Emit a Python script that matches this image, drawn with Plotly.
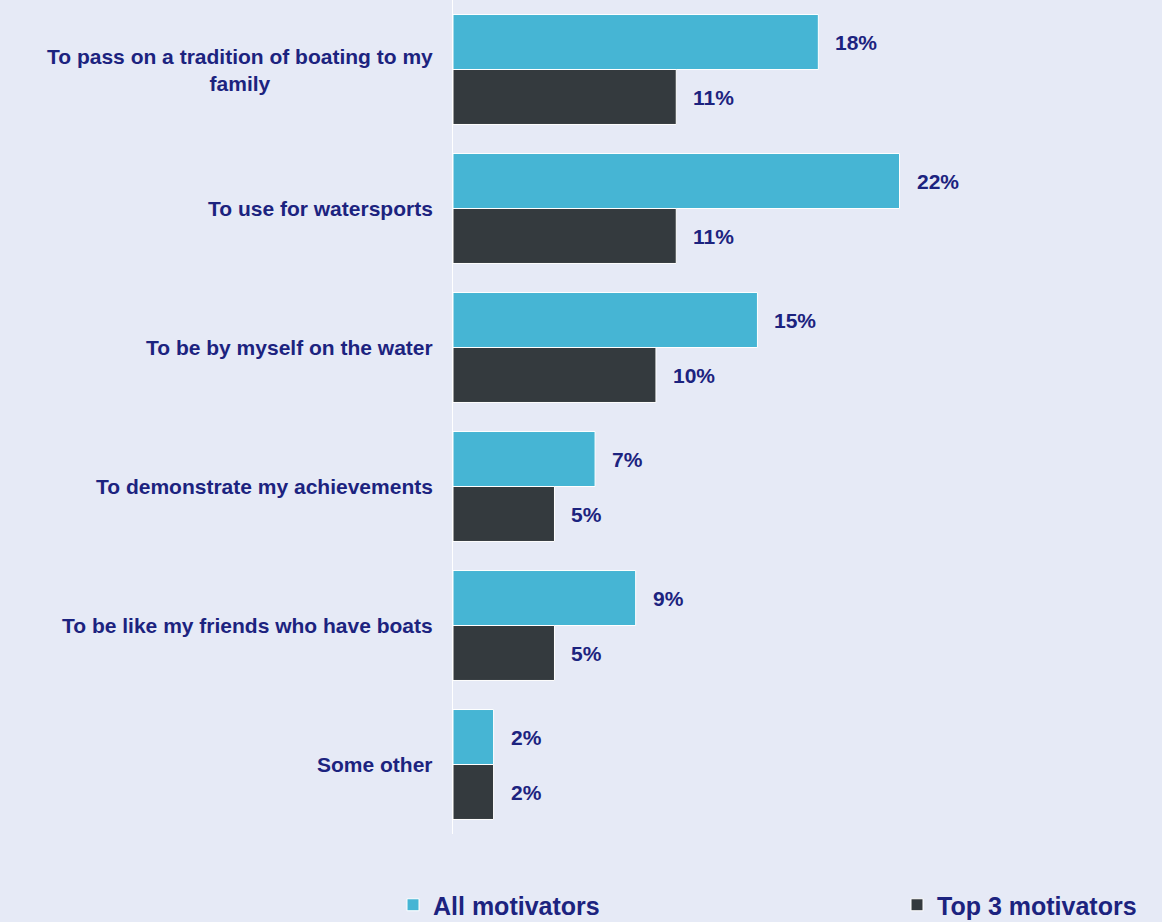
import plotly.graph_objects as go

# Survey motivators for boat ownership (percent of respondents)
categories = [
    "To pass on a tradition of boating to my<br>family",
    "To use for watersports",
    "To be by myself on the water",
    "To demonstrate my achievements",
    "To be like my friends who have boats",
    "Some other",
]
all_motivators = [18, 22, 15, 7, 9, 2]
top3_motivators = [11, 11, 10, 5, 5, 2]

series_names = ["All motivators", "Top 3 motivators"]
series_colors = ["#46b5d4", "#343a3e"]
legend_ids = ["legend", "legend2"]

BG = "#e6eaf6"
NAVY = "#1c237f"
FONT = "Liberation Sans, Arial"

fig = go.Figure()
for name, vals, color, lg in zip(series_names, [all_motivators, top3_motivators],
                                 series_colors, legend_ids):
    fig.add_trace(go.Bar(
        y=categories,
        x=vals,
        name=name,
        legend=lg,
        orientation="h",
        marker=dict(color=color, line=dict(color="white", width=1)),
        hoverinfo="x+y",
    ))

# Value labels to the right of each bar
annotations = []
for vals, shift in [(all_motivators, 27.5), (top3_motivators, -27.5)]:
    for cat, v in zip(categories, vals):
        annotations.append(dict(
            x=v, y=cat, xref="x", yref="y",
            text=f"<b>{v}%</b>", showarrow=False,
            xanchor="left", yanchor="middle",
            xshift=15, yshift=shift,
            font=dict(family=FONT, size=21, color=NAVY),
        ))

# Category labels, centred text block right-aligned against the axis
for cat in categories:
    annotations.append(dict(
        x=0, y=cat, xref="paper", yref="y",
        text=f"<b>{cat}</b>", showarrow=False,
        xanchor="right", yanchor="middle", align="center",
        xshift=-18,
        font=dict(family=FONT, size=21, color=NAVY),
    ))

legend_style = dict(
    orientation="h",
    xref="container", yref="container",
    yanchor="middle", xanchor="left",
    font=dict(family=FONT, size=25, color=NAVY, weight="bold"),
    bgcolor="rgba(0,0,0,0)",
)

fig.update_layout(
    width=1162, height=922,
    margin=dict(l=453, r=161, t=0, b=88, autoexpand=False),
    paper_bgcolor=BG, plot_bgcolor=BG,
    barmode="group", bargap=0.209, bargroupgap=0,
    showlegend=True,
    legend=dict(legend_style, x=393 / 1162, y=17 / 922),
    legend2=dict(legend_style, x=897 / 1162, y=17 / 922),
    annotations=annotations,
    xaxis=dict(range=[0, 27], showgrid=False, zeroline=False,
               showticklabels=False, showline=False),
    yaxis=dict(autorange="reversed", showgrid=False, zeroline=False,
               showticklabels=False, showline=True, linecolor="white",
               linewidth=1, ticks=""),
)

fig.write_html("out.html")
